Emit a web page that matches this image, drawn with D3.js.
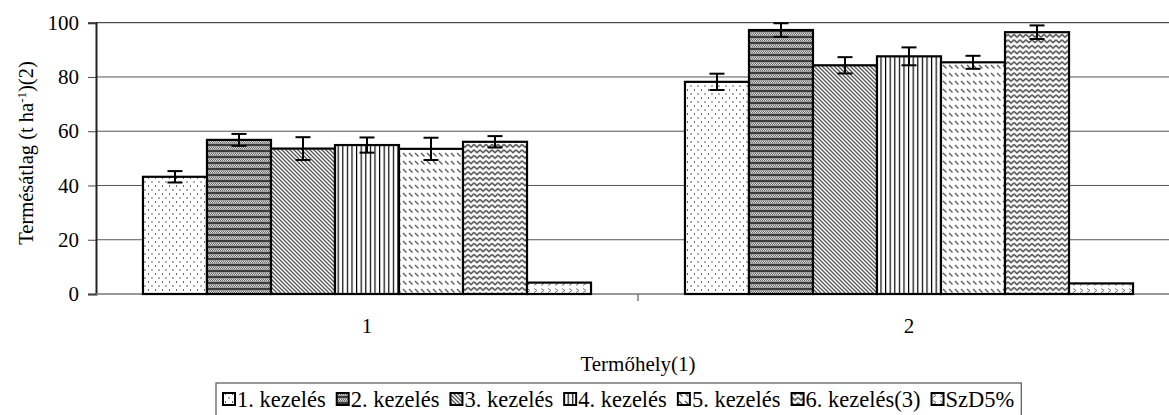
<!DOCTYPE html>
<html>
<head>
<meta charset="utf-8">
<script src="https://cdn.jsdelivr.net/npm/d3@7"></script>
<style>
  html, body { margin: 0; padding: 0; background: #fff; }
  svg { display: block; font-family: "Liberation Serif", "Times New Roman", serif; }
  svg text { font-family: "Liberation Serif", "Times New Roman", serif; }
</style>
</head>
<body>
<svg id="chart" width="1169" height="415"></svg>
<script>
// Sites (termőhely) and treatments
const categories = ["1", "2"];
const treatments = ["1. kezelés", "2. kezelés", "3. kezelés", "4. kezelés", "5. kezelés", "6. kezelés(3)", "SzD5%"];

// Mean yield (t/ha) per treatment at each site; last entry is LSD 5%
const site1Means = [43.2, 56.8, 53.6, 54.9, 53.5, 56.1, 4.2];
const site2Means = [78.2, 97.3, 84.3, 87.6, 85.4, 96.5, 3.9];

// Error bar half-widths (no error bar on SzD5%)
const site1Errors = [2.1, 2.2, 4.2, 2.8, 4.1, 2.1, null];
const site2Errors = [3.0, 2.5, 3.0, 3.3, 2.4, 2.5, null];

const yTicks = [0, 20, 40, 60, 80, 100];

const meansBySite = [site1Means, site2Means];
const errorsBySite = [site1Errors, site2Errors];

const svg = d3.select("#chart");
const plot = { left: 96, right: 1180, top: 22.7, bottom: 294 };

const y = d3.scaleLinear().domain([0, 100]).range([plot.bottom, plot.top]);
const x0 = d3.scaleBand().domain(categories).range([plot.left, plot.right]).padding(0);
const x1 = d3.scaleBand().domain(treatments).range([0, x0.bandwidth()])
  .paddingInner(0).paddingOuter(0.734);

// ---- fill patterns ----
const defs = svg.append("defs");
function makePattern(id, w, h, draw) {
  const p = defs.append("pattern").attr("id", id)
    .attr("patternUnits", "userSpaceOnUse").attr("width", w).attr("height", h);
  p.append("rect").attr("width", w).attr("height", h).attr("fill", "#fff");
  draw(p);
}
makePattern("p-dots", 7, 8, p => {
  p.append("rect").attr("x", 1).attr("y", 1).attr("width", 1).attr("height", 2).attr("fill", "#666");
  p.append("rect").attr("x", 4.5).attr("y", 5).attr("width", 1).attr("height", 2).attr("fill", "#666");
});
makePattern("p-hstripe", 4, 6, p => {
  p.select("rect").attr("fill", "#a0a0a0");
  p.append("rect").attr("y", 0).attr("width", 4).attr("height", 2).attr("fill", "#3c3c3c");
  p.append("rect").attr("y", 3).attr("width", 4).attr("height", 2).attr("fill", "#6e6e6e");
  [[0, 3], [2, 3], [1, 4], [3, 4]].forEach(([cx, cy]) =>
    p.append("rect").attr("x", cx).attr("y", cy).attr("width", 1).attr("height", 1).attr("fill", "#d8d8d8"));
});
makePattern("p-diag", 4, 4, p => {
  p.append("path").attr("d", "M-1,-1L5,5M-1,3L1,5M3,-1L5,1")
    .attr("stroke", "#555").attr("stroke-width", 1.3);
});
makePattern("p-vert", 4.6, 4, p => {
  p.append("rect").attr("x", 1.8).attr("y", 0).attr("width", 1.2).attr("height", 4).attr("fill", "#000");
});
makePattern("p-dash", 6, 8, p => {
  p.append("path").attr("d", "M1,1L4.5,4.5").attr("stroke", "#555").attr("stroke-width", 1.3);
});
makePattern("p-zigzag", 6, 5.5, p => {
  p.append("path").attr("d", "M0,1.3L3,4.2L6,1.3").attr("fill", "none")
    .attr("stroke", "#555").attr("stroke-width", 1.6);
});
makePattern("p-chevron", 7, 7, p => {
  p.append("path").attr("d", "M2,1.5L5,3.5L2,5.5").attr("fill", "none")
    .attr("stroke", "#777").attr("stroke-width", 1);
});
const fills = ["p-dots", "p-hstripe", "p-diag", "p-vert", "p-dash", "p-zigzag", "p-chevron"];
const fillOf = name => `url(#${fills[treatments.indexOf(name)]})`;

// ---- gridlines ----
svg.append("g").selectAll("line").data(yTicks.filter(t => t > 0)).join("line")
  .attr("x1", plot.left).attr("x2", plot.right)
  .attr("y1", d => y(d)).attr("y2", d => y(d))
  .attr("stroke", d => d === 100 ? "#222" : "#555").attr("stroke-width", 1);

// ---- y axis ----
const yAxis = svg.append("g").attr("transform", `translate(${plot.left},0)`)
  .call(d3.axisLeft(y).tickValues(yTicks).tickSize(8).tickPadding(9).tickFormat(d3.format("d")));
yAxis.attr("font-family", null).attr("font-size", null);
yAxis.select(".domain").attr("stroke", "#222").attr("stroke-width", 2);
yAxis.selectAll(".tick line").attr("stroke", "#444");
yAxis.selectAll(".tick text").attr("fill", "#000").style("font-size", "21px");

// ---- x axis baseline and category ticks ----
svg.append("line").attr("x1", plot.left).attr("x2", plot.right)
  .attr("y1", plot.bottom).attr("y2", plot.bottom)
  .attr("stroke", "#777").attr("stroke-width", 1.5);
svg.append("g").selectAll("line").data(categories.slice(1)).join("line")
  .attr("x1", d => x0(d)).attr("x2", d => x0(d))
  .attr("y1", plot.bottom).attr("y2", plot.bottom + 7)
  .attr("stroke", "#777").attr("stroke-width", 1.5);
svg.append("g").selectAll("text").data(categories).join("text")
  .attr("x", d => x0(d) + x0.bandwidth() / 2).attr("y", 333)
  .attr("text-anchor", "middle").style("font-size", "21px").text(d => d);

// ---- bars ----
const rows = [];
categories.forEach((c, ci) => treatments.forEach((t, ti) =>
  rows.push({ cat: c, name: t, value: meansBySite[ci][ti], err: errorsBySite[ci][ti] })));

svg.append("g").selectAll("rect").data(rows).join("rect")
  .attr("x", d => x0(d.cat) + x1(d.name))
  .attr("y", d => y(d.value))
  .attr("width", x1.bandwidth())
  .attr("height", d => y(0) - y(d.value))
  .attr("fill", d => fillOf(d.name))
  .attr("stroke", "#000").attr("stroke-width", 2.2);

// ---- error bars ----
const eg = svg.append("g").attr("stroke", "#000").attr("stroke-width", 2);
rows.filter(d => d.err != null).forEach(d => {
  const cx = x0(d.cat) + x1(d.name) + x1.bandwidth() / 2;
  const yt = y(d.value + d.err), yb = y(d.value - d.err);
  eg.append("line").attr("x1", cx).attr("x2", cx).attr("y1", yt).attr("y2", yb);
  eg.append("line").attr("x1", cx - 7.5).attr("x2", cx + 7.5).attr("y1", yt).attr("y2", yt);
  eg.append("line").attr("x1", cx - 7.5).attr("x2", cx + 7.5).attr("y1", yb).attr("y2", yb);
});

// ---- axis titles ----
const yTitle = svg.append("text")
  .attr("transform", "translate(33,153) rotate(-90)")
  .attr("text-anchor", "middle").style("font-size", "20.5px");
yTitle.append("tspan").text("Termésátlag (t ha");
yTitle.append("tspan").attr("baseline-shift", "super").style("font-size", "13px").text("-1");
yTitle.append("tspan").text(")(2)");

svg.append("text").attr("x", (plot.left + plot.right) / 2).attr("y", 371)
  .attr("text-anchor", "middle").style("font-size", "21px").text("Termőhely(1)");

// ---- legend ----
const legend = svg.append("g");
const legendFrame = legend.append("rect")
  .attr("y", 383).attr("height", 40).attr("fill", "#fff")
  .attr("stroke", "#555").attr("stroke-width", 1.2);
let lx = 223;
treatments.forEach(t => {
  legend.append("rect").attr("x", lx).attr("y", 393).attr("width", 12).attr("height", 12)
    .attr("fill", fillOf(t)).attr("stroke", "#000").attr("stroke-width", 2);
  const txt = legend.append("text").attr("x", lx + 14).attr("y", 407)
    .style("font-size", "22.5px").text(t);
  lx += 14 + txt.node().getComputedTextLength() + 11;
});
legendFrame.attr("x", 216).attr("width", lx - 216 - 4);
</script>
</body>
</html>
